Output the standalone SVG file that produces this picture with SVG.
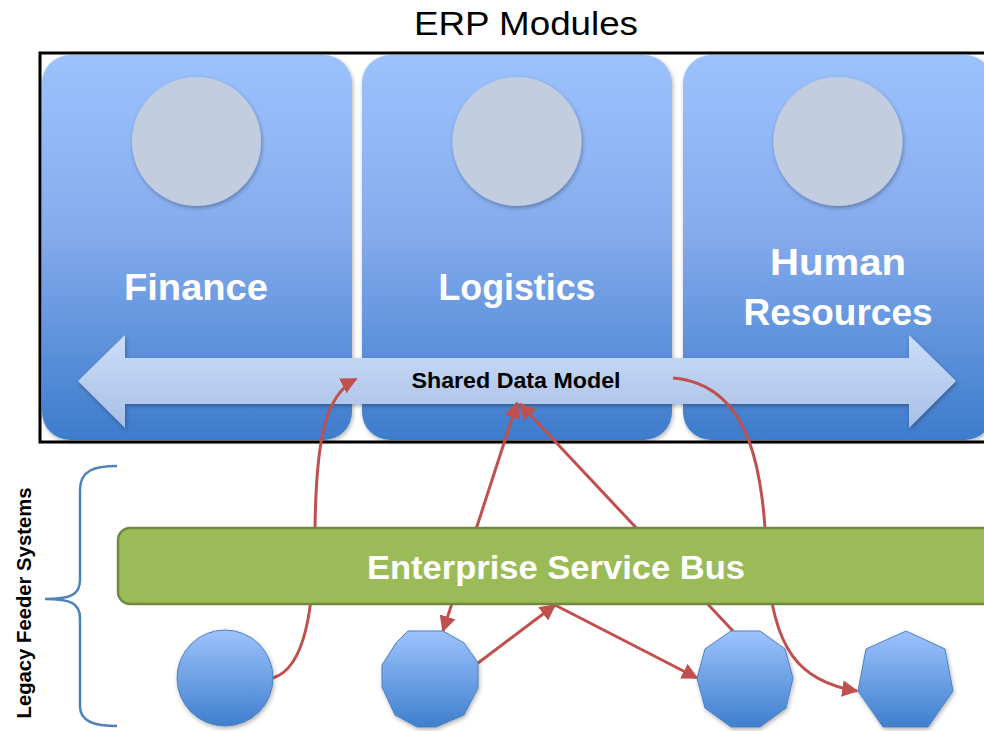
<svg xmlns="http://www.w3.org/2000/svg" width="984" height="731" viewBox="0 0 984 731">
<defs>
<linearGradient id="gPanel" x1="0" y1="0" x2="0" y2="1">
<stop offset="0" stop-color="#9CC2FD"/>
<stop offset="0.45" stop-color="#86ACEE"/>
<stop offset="1" stop-color="#3D7CCB"/>
</linearGradient>
<linearGradient id="gShape" x1="0" y1="0" x2="0" y2="1">
<stop offset="0" stop-color="#9DC3FD"/>
<stop offset="1" stop-color="#3F7FCD"/>
</linearGradient>
<linearGradient id="gArrow" x1="0" y1="0" x2="0" y2="1">
<stop offset="0" stop-color="#CBDDF8"/>
<stop offset="1" stop-color="#A8BFE6"/>
</linearGradient>
<filter id="sh" x="-10%" y="-10%" width="130%" height="130%">
<feDropShadow dx="1" dy="2" stdDeviation="2" flood-color="#000" flood-opacity="0.3"/>
</filter>
<marker id="ah" viewBox="0 0 10 10" refX="9" refY="5" markerWidth="5.5" markerHeight="5.5" orient="auto-start-reverse" markerUnits="strokeWidth">
<path d="M0,0 L10,5 L0,10 z" fill="#C0504D"/>
</marker>
<style>
.panel{fill:url(#gPanel);filter:url(#sh)}
.pc{fill:#C2CDE0;filter:url(#sh)}
.pt{font-family:"Liberation Sans",Arial,sans-serif;font-weight:bold;font-size:36px;fill:#fff;text-anchor:middle}
.shape{fill:url(#gShape);stroke:#4F81BD;stroke-width:1;filter:url(#sh)}
.conn{fill:none;stroke:#C0504D;stroke-width:3}
</style>
</defs>
<rect width="984" height="731" fill="#fff"/>
<text x="526" y="35" font-family="'Liberation Sans',Arial,sans-serif" font-size="34" text-anchor="middle" fill="#000" textLength="224" lengthAdjust="spacingAndGlyphs">ERP Modules</text>
<rect x="40" y="53" width="960" height="389" fill="none" stroke="#000" stroke-width="3"/>
<g id="finance">
<rect class="panel" x="42" y="55" width="310" height="385" rx="28"/>
<circle class="pc" cx="196.5" cy="141.5" r="64.5"/>
<text class="pt" x="196" y="300" textLength="144" lengthAdjust="spacingAndGlyphs">Finance</text>
</g>
<g id="logistics">
<rect class="panel" x="362" y="55" width="310" height="385" rx="28"/>
<circle class="pc" cx="517" cy="141.5" r="64.5"/>
<text class="pt" x="517" y="300" textLength="157" lengthAdjust="spacingAndGlyphs">Logistics</text>
</g>
<g id="hr">
<rect class="panel" x="683" y="55" width="310" height="385" rx="28"/>
<circle class="pc" cx="838" cy="141.5" r="64.5"/>
<text class="pt" x="838" y="275" textLength="136" lengthAdjust="spacingAndGlyphs">Human</text>
<text class="pt" x="838" y="325" textLength="189" lengthAdjust="spacingAndGlyphs">Resources</text>
</g>
<g id="shared-data-model">
<path d="M78,381 L125,335 L125,358 L909,358 L909,335 L956,381 L909,428 L909,404 L125,404 L125,428 Z" fill="url(#gArrow)" filter="url(#sh)"/>
<text x="516" y="388" font-family="'Liberation Sans',Arial,sans-serif" font-weight="bold" font-size="22" text-anchor="middle" fill="#000" textLength="209" lengthAdjust="spacingAndGlyphs">Shared Data Model</text>
</g>
<g id="connectors">
<path class="conn" d="M273,678 C305,668 314,610 315,530 C316,440 325,395 356,379" marker-end="url(#ah)"/>
<path class="conn" d="M443,631 L517,403" marker-start="url(#ah)" marker-end="url(#ah)"/>
<path class="conn" d="M733,631 L520,404" marker-end="url(#ah)"/>
<path class="conn" d="M673,378 C755,385 763,480 767,560 C772,650 800,682 857,691" marker-end="url(#ah)"/>
<path class="conn" d="M478,663 L555,605" marker-end="url(#ah)"/>
<path class="conn" d="M555,605 L697,678" marker-end="url(#ah)"/>
</g>
<g id="esb">
<rect x="118" y="528" width="880" height="76" rx="12" fill="#9BBB59" stroke="#71893F" stroke-width="2.5"/>
<text x="556" y="579" font-family="'Liberation Sans',Arial,sans-serif" font-weight="bold" font-size="34" text-anchor="middle" fill="#fff" textLength="378" lengthAdjust="spacingAndGlyphs">Enterprise Service Bus</text>
</g>
<g id="legacy-brace">
<path d="M117,466 C95,466 80,470 80,490 L80,580 C80,595 70,599 45,599 C70,599 80,603 80,618 L80,706 C80,722 95,726 117,726" fill="none" stroke="#4F81BD" stroke-width="2.5"/>
<text transform="translate(31,603) rotate(-90)" font-family="'Liberation Sans',Arial,sans-serif" font-weight="bold" font-size="20" text-anchor="middle" fill="#000" textLength="231" lengthAdjust="spacingAndGlyphs">Legacy Feeder Systems</text>
</g>
<g id="legacy-1">
<circle class="shape" cx="225" cy="678" r="48"/>
</g>
<g id="legacy-2">
<polygon class="shape" points="408,631 443,631 464,643 478,663 478,688 464,715 436,727 417,727 395,715 382,687 382,665 396,643"/>
</g>
<g id="legacy-3">
<polygon class="shape" points="731,631 760,631 785,649 793,678 786,708 760,727 731,727 705,708 697,678 705,649"/>
</g>
<g id="legacy-4">
<polygon class="shape" points="906,631 945,649 953,691 928,727 883,727 858,691 866,649"/>
</g>
</svg>
